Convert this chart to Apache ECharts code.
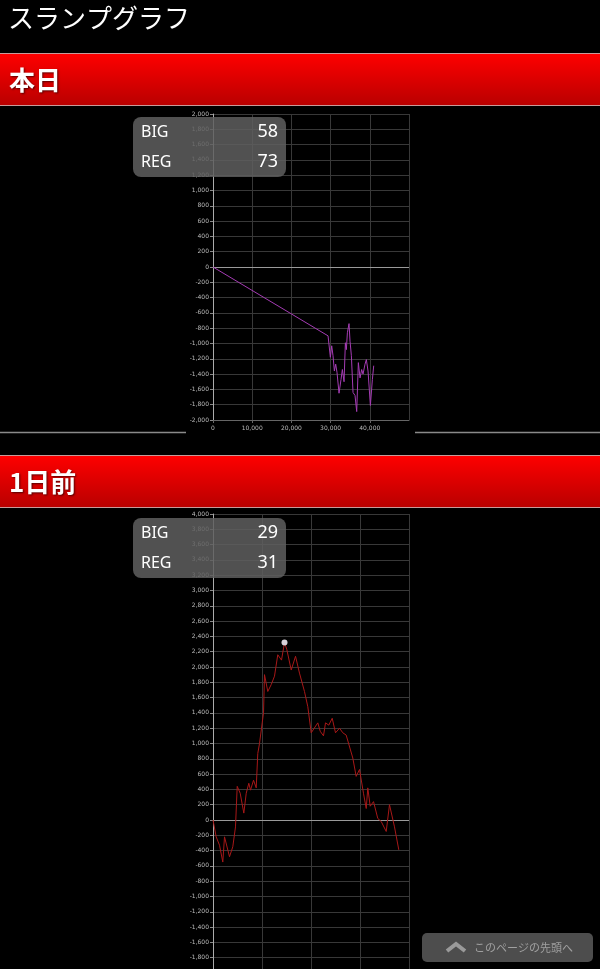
<!DOCTYPE html>
<html><head><meta charset="utf-8">
<script src="https://cdn.jsdelivr.net/npm/echarts/dist/echarts.min.js"></script>
<style>html,body{margin:0;padding:0;background:#000;overflow:hidden}#c{width:600px;height:969px}</style>
</head><body><div id="c"></div>
<script>
// ---- data ----
const pageTitle = 'スランプグラフ';
const sectionTitles = ['本日', '1日前'];
const countLabels = ['BIG', 'REG'];
const todayCounts = [58, 73];
const prevCounts = [29, 31];
const buttonText = 'このページの先頭へ';

const todayX = [0, 29350, 29940, 30280, 30620, 30960, 31300, 31640, 32150, 32660, 33000, 33430, 33770, 34020, 34280, 34700, 34960, 35300, 35720, 36230, 36660, 37080, 37510, 37930, 38270, 38780, 39120, 39550, 40150, 40660, 41000];
const todayY = [0, -900, -1180, -1030, -1160, -1360, -1270, -1380, -1650, -1470, -1340, -1500, -990, -1080, -860, -740, -970, -1160, -1640, -1680, -1890, -1250, -1450, -1340, -1400, -1270, -1210, -1360, -1810, -1470, -1290];

const prevX = [0, 650, 1330, 2000, 2350, 3370, 4040, 4590, 4940, 5550, 6290, 6780, 7310, 7650, 8270, 8820, 9140, 9490, 10040, 10310, 10510, 11180, 11880, 12550, 13220, 13980, 14590, 15060, 15960, 16840, 17650, 18670, 19350, 20040, 21390, 21880, 22550, 22960, 23630, 24330, 25000, 25820, 26490, 27180, 28530, 29220, 29900, 30710, 31270, 31590, 32080, 32760, 33630, 34330, 35350, 36020, 37040, 37920];
const prevY = [0, -220, -330, -550, -220, -480, -350, -90, 440, 350, 90, 350, 480, 390, 520, 420, 870, 1000, 1270, 1400, 1900, 1680, 1770, 1880, 2160, 2090, 2320, 2230, 1960, 2140, 1920, 1680, 1480, 1140, 1270, 1160, 1100, 1270, 1240, 1330, 1140, 1200, 1140, 1110, 810, 570, 660, 350, 150, 420, 180, 240, 20, -20, -150, 200, -90, -390];

// ---- build ----
const fmt = v => Number(v).toLocaleString('en-US');
const todayData = todayX.map((x, i) => [x, todayY[i]]);
const maxIdx = prevY.indexOf(Math.max(...prevY));
const prevData = prevX.map((x, i) => i === maxIdx
  ? {value: [x, prevY[i]], symbol: 'circle', symbolSize: 6, itemStyle: {color: '#d8d0d8', borderWidth: 0}}
  : [x, prevY[i]]);

const gridLine = {show: true, lineStyle: {color: '#383838', width: 1}};
function xAx(gi, max) {
  return {gridIndex: gi, type: 'value', min: 0, max: max, interval: 10000,
    axisLine: {show: true, onZero: false, lineStyle: {color: '#666'}},
    axisTick: {show: true, length: 3, lineStyle: {color: '#666'}},
    axisLabel: {fontSize: 6, color: '#bbb', margin: 5, formatter: fmt, showMaxLabel: false, fontFamily: 'DejaVu Sans'},
    splitLine: gridLine};
}
function yAx(gi, min, max) {
  return {gridIndex: gi, type: 'value', min: min, max: max, interval: 200,
    axisLine: {show: true, onZero: false, lineStyle: {color: '#aaa'}},
    axisTick: {show: true, length: 3, lineStyle: {color: '#888'}},
    axisLabel: {fontSize: 6, color: '#bbb', margin: 4, formatter: fmt, fontFamily: 'DejaVu Sans'},
    splitLine: gridLine};
}
const zeroLine = {silent: true, symbol: 'none', label: {show: false}, data: [{yAxis: 0}],
  lineStyle: {color: '#9a9a9a', width: 1, type: 'solid'}, animation: false};

function header(y, text) {
  return [
    {type: 'rect', shape: {x: 0, y: y, width: 600, height: 53}, z: 50,
      style: {fill: new echarts.graphic.LinearGradient(0, 0, 0, 1, [{offset: 0, color: '#ff0000'}, {offset: 1, color: '#b80000'}])}},
    {type: 'line', shape: {x1: 0, y1: y + 0.5, x2: 600, y2: y + 0.5}, z: 51, style: {stroke: '#c89a9a', lineWidth: 1}},
    {type: 'line', shape: {x1: 0, y1: y + 52.5, x2: 600, y2: y + 52.5}, z: 51, style: {stroke: '#c89a9a', lineWidth: 1}},
    {type: 'text', x: 9, y: y + 27, z: 52, style: {text: text, fill: '#fff', font: 'bold 26px "Noto Sans CJK JP"', textVerticalAlign: 'middle',
      textShadowColor: 'rgba(0,0,0,0.6)', textShadowBlur: 2, textShadowOffsetX: 1, textShadowOffsetY: 1}}
  ];
}
function countBox(y, counts) {
  const els = [{type: 'rect', shape: {x: 133, y: y, width: 153, height: 60, r: 8}, z: 60,
    style: {fill: 'rgba(95,95,95,0.85)'}}];
  countLabels.forEach((lab, i) => {
    els.push({type: 'text', x: 141, y: y + 15 + i * 30, z: 61, style: {text: lab, fill: '#fff', font: '16px "Noto Sans"', textVerticalAlign: 'middle'}});
    els.push({type: 'text', x: 278, y: y + 15 + i * 30, z: 61, style: {text: String(counts[i]), fill: '#fff', font: '18px "Noto Sans"', textAlign: 'right', textVerticalAlign: 'middle'}});
  });
  return els;
}

const graphics = [
  {type: 'text', x: 8, y: 18, z: 50, style: {text: pageTitle, fill: '#fff', font: '26px "Noto Sans CJK JP"', textVerticalAlign: 'middle'}},
  ...header(53, sectionTitles[0]),
  ...header(455, sectionTitles[1]),
  {type: 'line', shape: {x1: 0, y1: 432.5, x2: 186, y2: 432.5}, z: 50, style: {stroke: '#8a8a8a', lineWidth: 1.5}},
  {type: 'line', shape: {x1: 415, y1: 432.5, x2: 600, y2: 432.5}, z: 50, style: {stroke: '#8a8a8a', lineWidth: 1.5}},
  ...countBox(117, todayCounts),
  ...countBox(518, prevCounts),
  {type: 'rect', shape: {x: 422, y: 933, width: 171, height: 29, r: 5}, z: 70, style: {fill: 'rgba(85,85,85,0.9)'}},
  {type: 'polyline', shape: {points: [[447, 951], [456, 944], [465, 951]]}, z: 71, style: {stroke: '#9a9a9a', lineWidth: 4, fill: 'none'}},
  {type: 'text', x: 474, y: 947.5, z: 71, style: {text: buttonText, fill: '#a0a0a0', font: '11px "Noto Sans CJK JP"', textVerticalAlign: 'middle'}}
];

const chart = echarts.init(document.getElementById('c'), null, {renderer: 'canvas'});
chart.setOption({
  backgroundColor: '#000',
  animation: false,
  grid: [
    {left: 213, top: 114, width: 196, height: 306, containLabel: false, outerBoundsMode: 'none'},
    {left: 213, top: 514, width: 196, height: 612, containLabel: false, outerBoundsMode: 'none'}
  ],
  xAxis: [xAx(0, 50000), xAx(1, 40000)],
  yAxis: [yAx(0, -2000, 2000), yAx(1, -4000, 4000)],
  series: [
    {type: 'line', xAxisIndex: 0, yAxisIndex: 0, data: todayData, showSymbol: false, symbol: 'none',
      lineStyle: {color: '#a53cb4', width: 1}, itemStyle: {color: '#a53cb4'}, markLine: zeroLine, z: 5},
    {type: 'line', xAxisIndex: 1, yAxisIndex: 1, data: prevData, showSymbol: true, symbol: 'none',
      lineStyle: {color: '#a81818', width: 1}, itemStyle: {color: '#a81818'}, markLine: zeroLine, z: 5}
  ],
  graphic: graphics
});
</script>
</body></html>
